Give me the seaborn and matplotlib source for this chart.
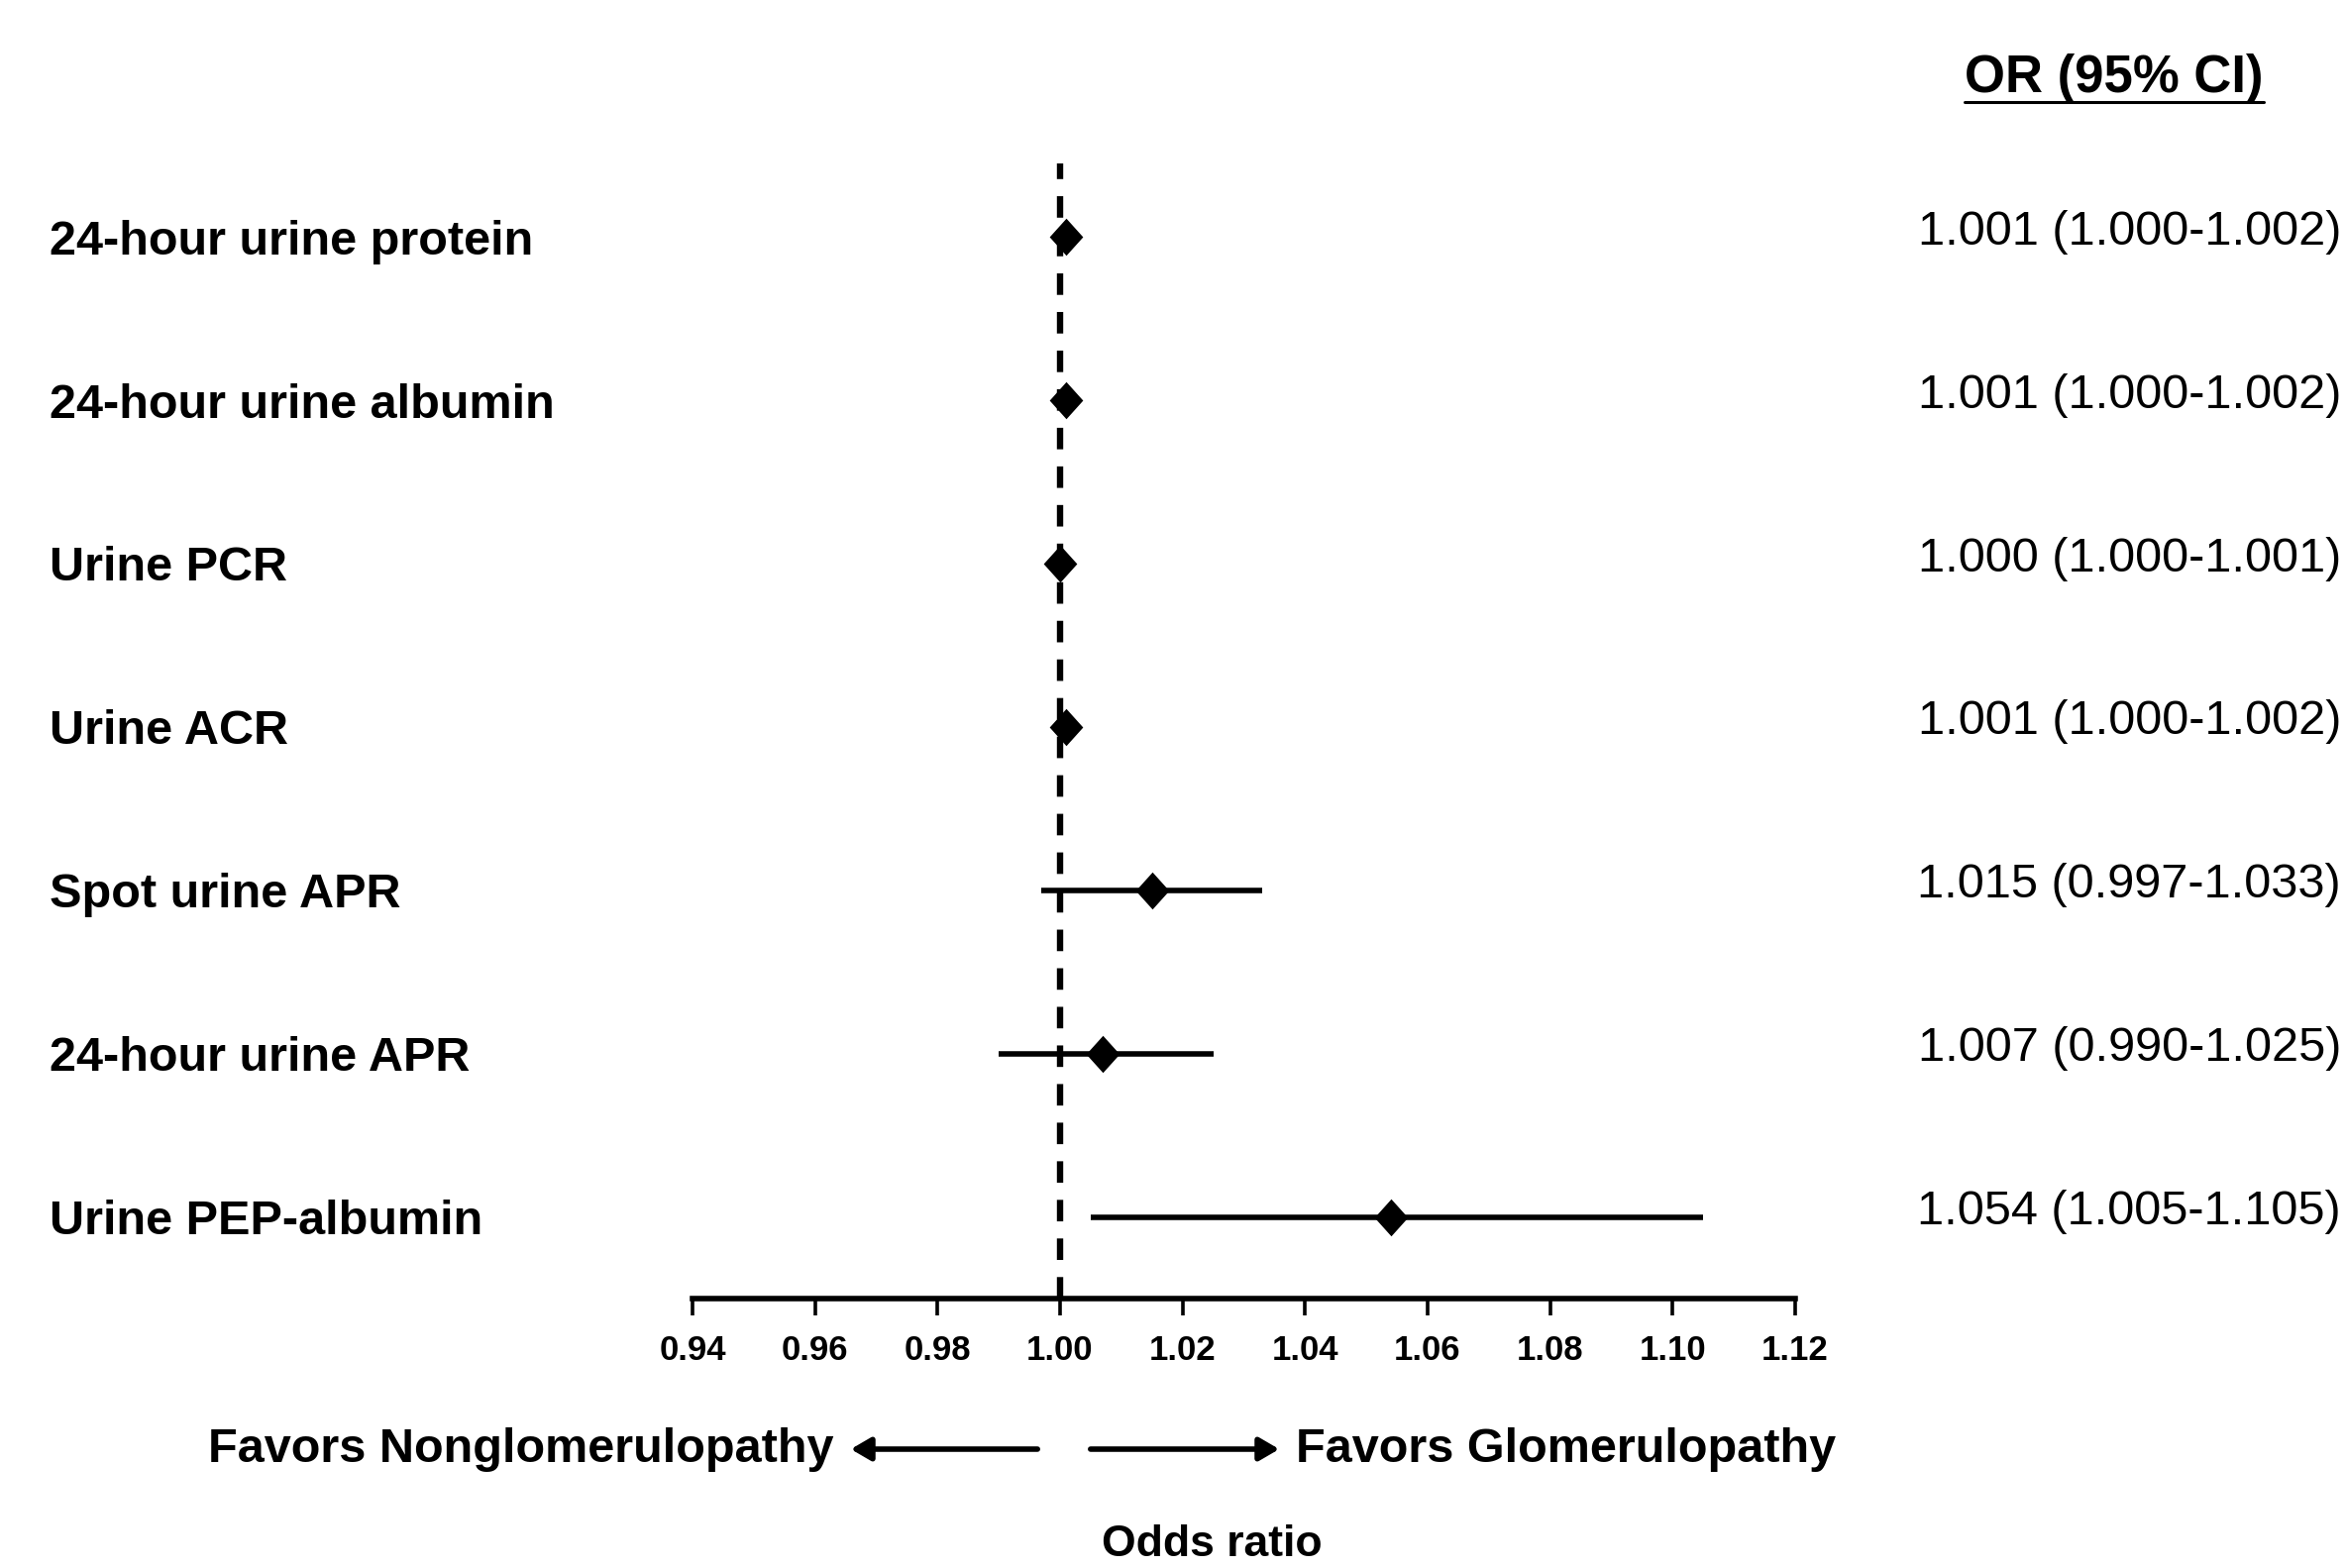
import matplotlib
matplotlib.use('Agg')
import matplotlib.pyplot as plt
import matplotlib.transforms as mtransforms
from matplotlib.lines import Line2D
from matplotlib.patches import FancyArrowPatch
import seaborn as sns
import pandas as pd

# forest plot data
measures = ['24-hour urine protein', '24-hour urine albumin', 'Urine PCR', 'Urine ACR',
            'Spot urine APR', '24-hour urine APR', 'Urine PEP-albumin']
odds_ratio = [1.001, 1.001, 1.000, 1.001, 1.015, 1.007, 1.054]
ci_low = [1.000, 1.000, 1.000, 1.000, 0.997, 0.990, 1.005]
ci_high = [1.002, 1.002, 1.001, 1.002, 1.033, 1.025, 1.105]
x_ticks = [0.94, 0.96, 0.98, 1.00, 1.02, 1.04, 1.06, 1.08, 1.10, 1.12]

df = pd.DataFrame({'measure': measures, 'or': odds_ratio, 'lo': ci_low, 'hi': ci_high})
df['row'] = range(len(df))
df['label'] = [f'{o:.3f} ({l:.3f}-{h:.3f})' for o, l, h in zip(df['or'], df['lo'], df['hi'])]

sns.set_theme(style='white')
plt.rcParams['font.family'] = ['Liberation Sans', 'DejaVu Sans']

W, H = 2368, 1583
fig = plt.figure(figsize=(W / 100, H / 100), dpi=100)
ax = fig.add_axes([699 / W, 1 - 1311 / H, (1812 - 699) / W, (1311 - 165) / H])

ax.set_xlim(0.94, 1.12)
ax.set_ylim(6.5, -0.45)

# reference line at OR = 1
ax.axvline(1.0, color='black', lw=4.6, ls=(0, (3.4, 2.7)), zorder=1)

# confidence intervals
ax.hlines(df['row'], df['lo'], df['hi'], color='black', lw=4.0, zorder=2)

# point estimates (diamonds)
diamond = [(-0.9, 0), (0, 1), (0.9, 0), (0, -1), (-0.9, 0)]
sns.scatterplot(data=df, x='or', y='row', marker=diamond, s=27 ** 2,
                color='black', edgecolor='black', linewidth=0, zorder=3, ax=ax, legend=False)

# axis styling
for side in ['left', 'top', 'right']:
    ax.spines[side].set_visible(False)
ax.spines['bottom'].set_linewidth(4)
ax.spines['bottom'].set_color('black')
ax.set_xticks(x_ticks)
ax.set_xticklabels([f'{t:.2f}' for t in x_ticks])
ax.tick_params(axis='x', bottom=True, direction='out', length=12, width=2.6,
               labelsize=25, pad=14, colors='black')
plt.setp(ax.get_xticklabels(), fontweight='bold')
ax.set_yticks([])
ax.set_xlabel('')
ax.set_ylabel('')

# row labels on the left, OR text on the right
trans = mtransforms.blended_transform_factory(fig.transFigure, ax.transData)
for _, r in df.iterrows():
    ax.text(50 / W, r['row'] + 0.03, r['measure'], transform=trans, ha='left', va='center',
            fontsize=35, fontweight='bold', color='black', clip_on=False)
    ax.text(2363 / W, r['row'] - 0.03, r['label'], transform=trans, ha='right', va='center',
            fontsize=35, color='black', clip_on=False)

# column header with underline
hdr = fig.text(2134 / W, 1 - 79 / H, 'OR (95% CI)', ha='center', va='center',
               fontsize=38, fontweight='bold', color='black')
fig.canvas.draw()
bb = hdr.get_window_extent()
fig.add_artist(Line2D([bb.x0 / W, bb.x1 / W], [1 - 103 / H, 1 - 103 / H],
                      transform=fig.transFigure, color='black', lw=2.2))

# direction arrows
arrow_kw = dict(arrowstyle='-|>,head_length=0.6,head_width=0.35', color='black', lw=4)
fig.add_artist(FancyArrowPatch((1050 / W, 1 - 1463 / H), (856 / W, 1 - 1463 / H),
                               transform=fig.transFigure, mutation_scale=20, **arrow_kw))
fig.add_artist(FancyArrowPatch((1098 / W, 1 - 1463 / H), (1294 / W, 1 - 1463 / H),
                               transform=fig.transFigure, mutation_scale=20, **arrow_kw))
fig.text(841 / W, 1 - 1463 / H, 'Favors Nonglomerulopathy', ha='right', va='center',
         fontsize=35, fontweight='bold', color='black')
fig.text(1308 / W, 1 - 1463 / H, 'Favors Glomerulopathy', ha='left', va='center',
         fontsize=35, fontweight='bold', color='black')

# axis title at the very bottom edge
fig.text(1223 / W, 3 / H, 'Odds ratio', ha='center', va='bottom',
         fontsize=32, fontweight='bold', color='black')

fig.savefig('out.png', dpi=100, facecolor='white')
